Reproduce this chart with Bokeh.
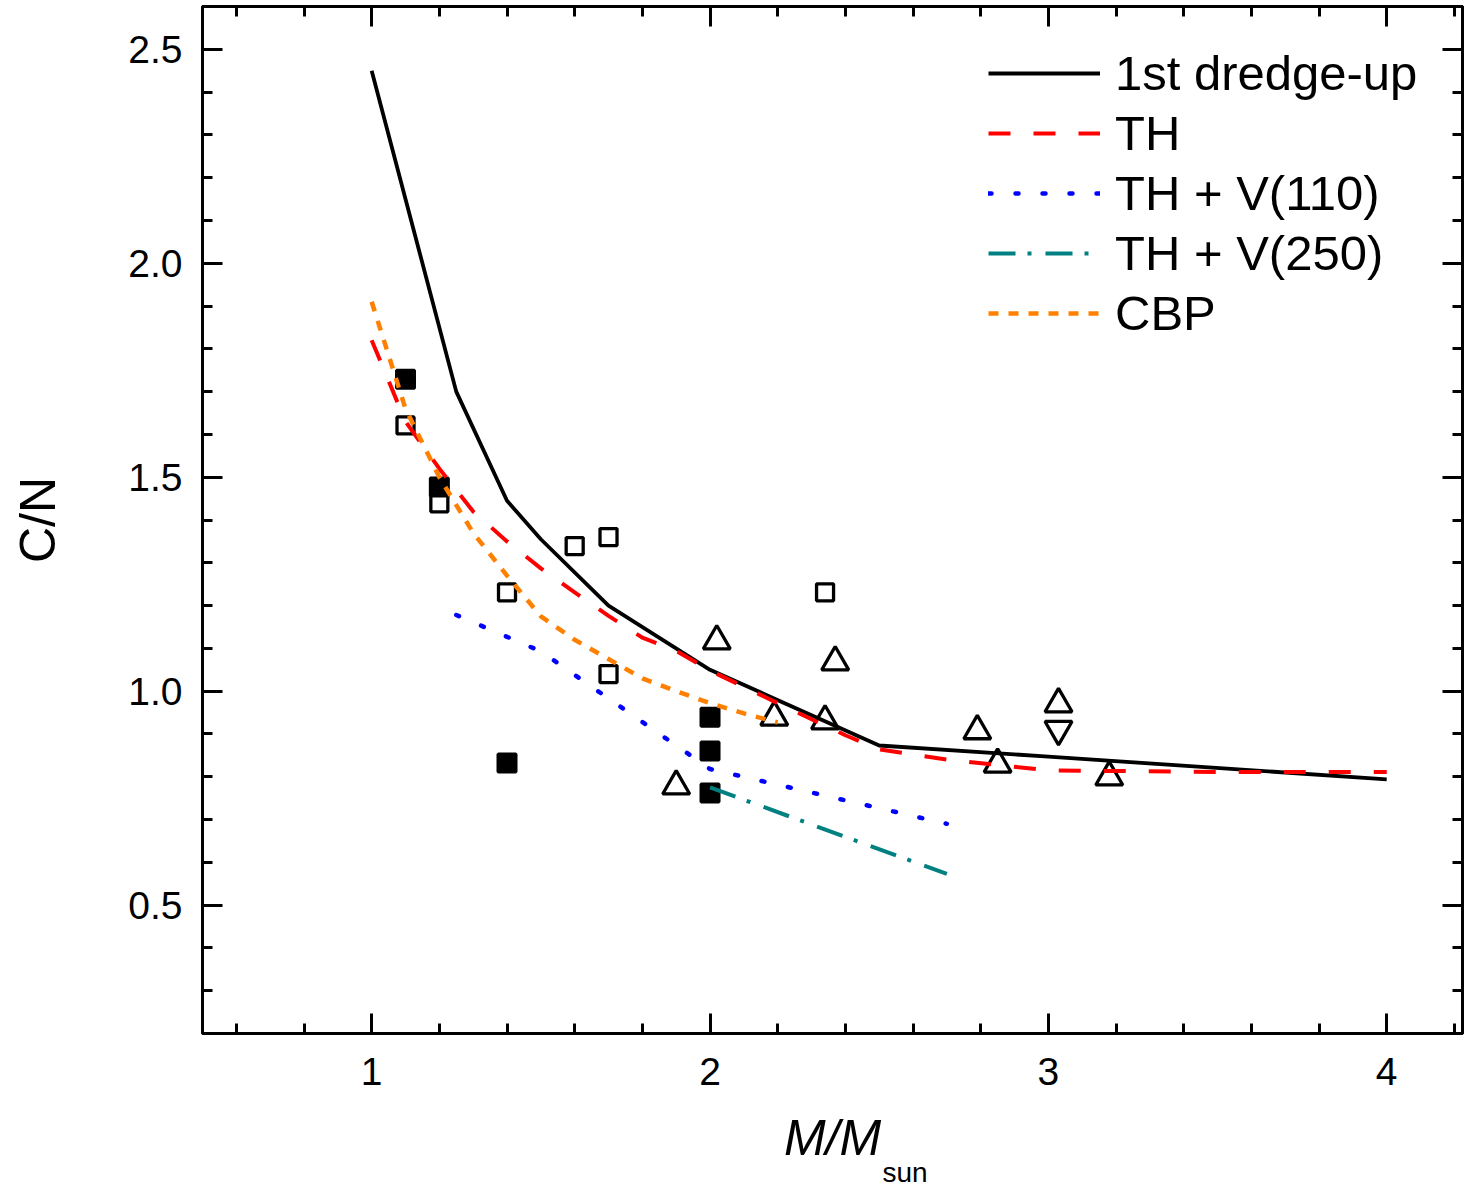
from bokeh.plotting import figure
from bokeh.models import (Range1d, LinearAxis, SingleIntervalTicker, FixedTicker, Legend,
                          LegendItem, Title, PrintfTickFormatter)
from bokeh.embed import file_html
from bokeh.resources import INLINE

# ---------------- data ----------------
fdu_mass = [1.0, 1.25, 1.4, 1.5, 1.7, 2.0, 2.5, 3.0, 4.0]
fdu_cn = [2.45, 1.70, 1.445, 1.355, 1.20, 1.05, 0.873, 0.847, 0.794]

th_mass = [1.0, 1.1, 1.2, 1.3, 1.4, 1.5, 1.6, 1.7, 1.8, 1.9, 2.0, 2.2, 2.4, 2.5, 2.7, 3.0, 3.5, 4.0]
th_cn = [1.82, 1.63, 1.52, 1.42, 1.35, 1.287, 1.231, 1.176, 1.125, 1.094, 1.048,
         0.972, 0.897, 0.864, 0.840, 0.815, 0.811, 0.811]

v110_mass = [1.25, 1.5, 2.0, 2.7]
v110_cn = [1.178, 1.093, 0.818, 0.690]

v250_mass = [2.0, 2.7]
v250_cn = [0.775, 0.573]

cbp_mass = [1.0, 1.1, 1.2, 1.3, 1.4, 1.5, 1.6, 1.7, 1.8, 1.9, 2.0, 2.1, 2.2]
cbp_cn = [1.91, 1.66, 1.50, 1.37, 1.27, 1.175, 1.12, 1.075, 1.03, 1.0, 0.972, 0.948, 0.927]

filled_sq_mass = [1.1, 1.2, 1.4, 2.0, 2.0, 2.0]
filled_sq_cn = [1.729, 1.477, 0.832, 0.939, 0.860, 0.762]

open_sq_mass = [1.1, 1.2, 1.4, 1.6, 1.7, 1.7, 2.34]
open_sq_cn = [1.621, 1.439, 1.231, 1.339, 1.360, 1.040, 1.231]

tri_mass = [2.02, 2.37, 1.90, 2.19, 2.34, 2.79, 2.85, 3.03, 3.18]
tri_cn = [1.117, 1.068, 0.778, 0.939, 0.930, 0.907, 0.829, 0.970, 0.799]

itri_mass = [3.03]
itri_cn = [0.911]

legend_labels = ["1st dredge-up", "TH", "TH + V(110)", "TH + V(250)", "CBP"]

x_major_ticks = [1, 2, 3, 4]
x_minor_ticks = [0.6, 0.8, 1.2, 1.4, 1.6, 1.8, 2.2, 2.4, 2.6, 2.8, 3.2, 3.4, 3.6, 3.8, 4.2]
y_major_ticks = [0.5, 1.0, 1.5, 2.0, 2.5]
y_minor_ticks = [0.3, 0.4, 0.6, 0.7, 0.8, 0.9, 1.1, 1.2, 1.3, 1.4, 1.6, 1.7, 1.8, 1.9,
                 2.1, 2.2, 2.3, 2.4]

FONT = "Liberation Sans"

p = figure(width=1464, height=1186, output_backend="svg", toolbar_location=None,
           x_range=Range1d(0.5, 4.224), y_range=Range1d(0.2, 2.6),
           min_border_left=202, min_border_right=2, min_border_top=6,
           min_border_bottom=153, y_axis_label="C/N", x_axis_label="M/M")
p.xgrid.visible = False
p.ygrid.visible = False
p.outline_line_color = "black"
p.outline_line_width = 3
p.background_fill_color = "white"
p.border_fill_color = "white"


def style_axis(ax):
    ax.axis_line_width = 3
    ax.axis_line_color = "black"
    ax.major_tick_in = 20
    ax.major_tick_out = 0
    ax.minor_tick_in = 10
    ax.minor_tick_out = 0
    ax.major_tick_line_width = 3
    ax.minor_tick_line_width = 3
    ax.major_tick_line_color = "black"
    ax.minor_tick_line_color = "black"
    ax.major_label_text_font = FONT
    ax.major_label_text_font_size = "39px"
    ax.major_label_text_color = "black"
    ax.axis_label_text_font = FONT
    ax.axis_label_text_font_size = "50px"
    ax.axis_label_text_color = "black"


p.xaxis.ticker = SingleIntervalTicker(interval=1, num_minor_ticks=5)
p.yaxis.ticker = SingleIntervalTicker(interval=0.5, num_minor_ticks=5)
p.yaxis.formatter = PrintfTickFormatter(format="%.1f")
style_axis(p.xaxis[0])
style_axis(p.yaxis[0])
p.xaxis.major_label_standoff = 24
p.yaxis.major_label_standoff = 20
p.yaxis.axis_label_text_font_style = "normal"
p.yaxis.axis_label_standoff = 59
p.xaxis.axis_label_text_font_style = "italic"
p.xaxis.axis_label_standoff = 22


def tick_only_axis(ticks, length):
    ax = LinearAxis(ticker=FixedTicker(ticks=[], minor_ticks=ticks))
    ax.axis_line_width = 3
    ax.axis_line_color = "black"
    ax.major_tick_in = 0
    ax.major_tick_out = 0
    ax.minor_tick_in = length
    ax.minor_tick_out = 0
    ax.minor_tick_line_width = 3
    ax.minor_tick_line_color = "black"
    ax.major_label_standoff = 0
    ax.axis_label_standoff = 0
    return ax


p.add_layout(tick_only_axis(x_major_ticks, 20), "above")
p.add_layout(tick_only_axis(x_minor_ticks, 10), "above")
p.add_layout(tick_only_axis(y_major_ticks, 20), "right")
p.add_layout(tick_only_axis(y_minor_ticks, 10), "right")

# markers (drawn first, lines go on top)
p.scatter(open_sq_mass, open_sq_cn, marker="square", size=17, fill_color="white",
          line_color="black", line_width=3.3)
p.scatter(filled_sq_mass, filled_sq_cn, marker="square", size=18, fill_color="black",
          line_color="black", line_width=3)
p.scatter(tri_mass, tri_cn, marker="triangle", size=27, fill_color=None,
          line_color="black", line_width=3.3)
p.scatter(itri_mass, itri_cn, marker="inverted_triangle", size=27, fill_color=None,
          line_color="black", line_width=3.3)

r_fdu = p.line(fdu_mass, fdu_cn, line_color="black", line_width=3.8)
r_th = p.line(th_mass, th_cn, line_color="#FF0000", line_width=4, line_dash="22 23")
r_v110 = p.line(v110_mass, v110_cn, line_color="#0000FF", line_width=4.5,
                line_dash="3 24", line_cap="round")
r_v250 = p.line(v250_mass, v250_cn, line_color="#008080", line_width=4,
                line_dash="27 12 4 14")
r_cbp = p.line(cbp_mass, cbp_cn, line_color="#FF8000", line_width=4.5, line_dash="10 10")

legend = Legend(items=[LegendItem(label=lab, renderers=[r]) for lab, r in
                       zip(legend_labels, [r_fdu, r_th, r_v110, r_v250, r_cbp])],
                location=(786, 690), glyph_width=112, glyph_height=60,
                label_height=60, label_standoff=15, spacing=0, padding=0, margin=0,
                border_line_color=None, background_fill_alpha=0,
                label_text_font=FONT, label_text_font_size="49px",
                label_text_color="black")
p.add_layout(legend)

# subscript "sun" of the x axis label
p.add_layout(Title(text="sun", align="left", offset=680, standoff=-38,
                   text_font=FONT, text_font_size="28px", text_font_style="normal",
                   text_color="black"), "below")

open("out.html", "w").write(file_html(p, INLINE))
